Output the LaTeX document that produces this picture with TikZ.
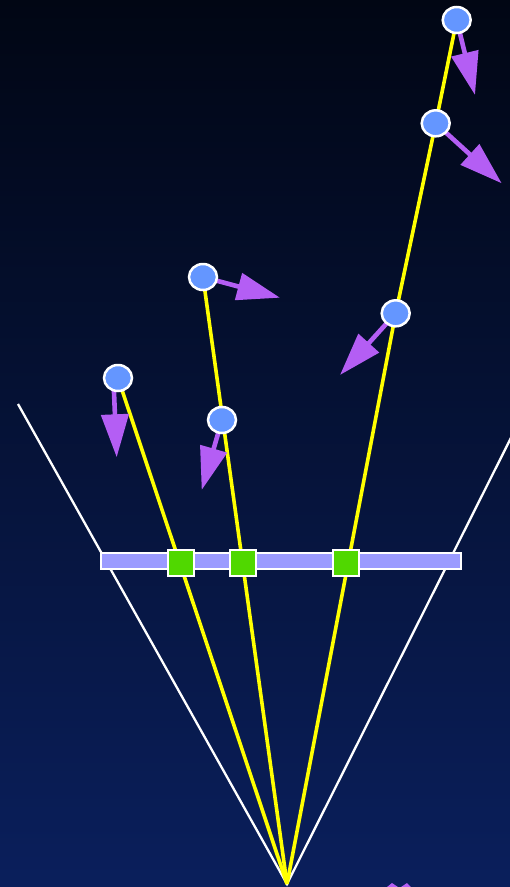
\documentclass[tikz,border=0pt]{standalone}
\usetikzlibrary{arrows.meta,shapes.geometric}
\definecolor{bgtop}{RGB}{1,6,20}
\definecolor{bgbot}{RGB}{10,31,92}
\definecolor{ray}{RGB}{255,255,0}
\definecolor{vec}{RGB}{180,94,244}
\definecolor{ball}{RGB}{100,150,255}
\definecolor{pix}{RGB}{80,216,0}
\definecolor{screen}{RGB}{155,155,255}
\begin{document}
\begin{tikzpicture}[x=1pt,y=-1pt,
  conestyle/.style={draw=white,line width=2.3pt},
  raystyle/.style={draw=ray,line width=3.6pt,line join=round},
  vecstyle/.style={draw=vec,line width=4.6pt,-{Triangle[length=43pt,width=27pt]},fill=vec},
  ballstyle/.style={ellipse,draw=white,line width=2.5pt,fill=ball,minimum width=28pt,minimum height=26pt,inner sep=0pt},
  pixstyle/.style={rectangle,draw=white,line width=2pt,fill=pix,minimum size=26pt,inner sep=0pt},
  barstyle/.style={rectangle,draw=white,line width=2pt,fill=screen,minimum width=360pt,minimum height=15.5pt,inner sep=0pt}]
\useasboundingbox (0,0) rectangle (510,887);
\clip (0,0) rectangle (510,887);
\shade[top color=bgtop,bottom color=bgbot] (0,0) rectangle (510,887);
% geometry
\coordinate (apex) at (287,884);
\coordinate (L) at (18,404);
\coordinate (R) at (538,384);
\coordinate (pA) at (118,378);
\coordinate (pB) at (203,277);
\coordinate (pC) at (222,420);
\coordinate (pD) at (395.7,313.3);
\coordinate (pE) at (435.7,123.3);
\coordinate (pF) at (456.7,20);
\coordinate (tA) at (116.7,457.3);
\coordinate (tB) at (280,297.7);
\coordinate (tC) at (201.7,490);
\coordinate (tD) at (340,375);
\coordinate (tE) at (501.7,183.3);
\coordinate (tF) at (475,95);
\coordinate (sA) at (113.5,380);
% view cone
\draw[conestyle] (L) -- (apex) -- (R);
% rays
\draw[raystyle] (apex) -- (pA);
\draw[raystyle] (apex) -- (pB);
\draw[raystyle] (apex) -- (pD) -- (pE) -- (pF);
% vectors
\draw[vecstyle] (sA) -- (tA);
\draw[vecstyle] (pB) -- (tB);
\draw[vecstyle] (pC) -- (tC);
\draw[vecstyle] (pD) -- (tD);
\draw[vecstyle] (pE) -- (tE);
\draw[vecstyle] (pF) -- (tF);
\fill[vec] (387,887) -- (392,883) -- (398,887) -- cycle;
\fill[vec] (401,887) -- (407,883) -- (411,887) -- cycle;
% screen
\node[barstyle] (bar) at (280.5,561) {};
\node[pixstyle] (q1) at (181,563) {};
\node[pixstyle] (q2) at (243.3,563) {};
\node[pixstyle] (q3) at (346,563) {};
% samples
\node[ballstyle] (bA) at (pA) {};
\node[ballstyle] (bB) at (pB) {};
\node[ballstyle] (bC) at (pC) {};
\node[ballstyle] (bD) at (pD) {};
\node[ballstyle] (bE) at (pE) {};
\node[ballstyle] (bF) at (pF) {};
\end{tikzpicture}
\end{document}
